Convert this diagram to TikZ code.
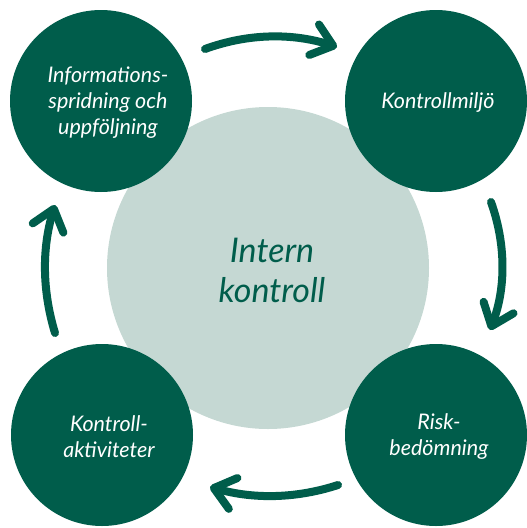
\documentclass[tikz,border=0pt]{standalone}
\usepackage{fontspec}
\setmainfont{Lato}
\usetikzlibrary{arrows.meta}
\definecolor{dk}{RGB}{0,93,75}
\definecolor{lt}{RGB}{197,216,211}
\begin{document}
\begin{tikzpicture}[x=1pt,y=-1pt,
  stage/.style={circle, fill=dk, minimum size=182pt, inner sep=0pt},
  lbl/.style={text=white, font=\fontsize{21.5}{26}\selectfont\itshape, align=center, inner sep=0pt},
  flow/.style={draw=dk, line width=8pt, line cap=round, -{Straight Barb[length=20pt,width=32pt,round]}}]
\useasboundingbox (0,0) rectangle (527,528);
\node[circle, fill=lt, minimum size=322pt, inner sep=0pt] (core) at (268,268) {};
\node[stage] (info) at (101,101) {};
\node[stage] (miljo) at (436,101) {};
\node[stage] (risk) at (436,435) {};
\node[stage] (akt) at (102,435) {};
\node[text=dk, font=\fontsize{34}{40}\selectfont\itshape, align=center, inner sep=0pt] (coret) at (272,270) {Intern\\kontroll};
\node[lbl] (infot) at (108,103) {Informations-\\spridning och\\uppföljning};
\node[lbl] (miljot) at (438,103) {Kontrollmiljö};
\node[lbl] (riskt) at (439,437) {Risk-\\bedömning};
\node[lbl] (aktt) at (109,437) {Kontroll-\\aktiviteter};
\coordinate (a1s) at (205,49);
\coordinate (a1e) at (337,47);
\coordinate (a2s) at (491,202);
\coordinate (a2e) at (490,330);
\coordinate (a3s) at (338,485);
\coordinate (a3e) at (210,487);
\coordinate (a4s) at (55,333);
\coordinate (a4e) at (55,205);
\draw[flow] (a1s) .. controls (249,33) and (293,33) .. (a1e);
\draw[flow] (a2s) .. controls (506,244) and (506,288) .. (a2e);
\draw[flow] (a3s) .. controls (295,499) and (253,499) .. (a3e);
\draw[flow] (a4s) .. controls (42,290) and (42,248) .. (a4e);
\end{tikzpicture}
\end{document}
